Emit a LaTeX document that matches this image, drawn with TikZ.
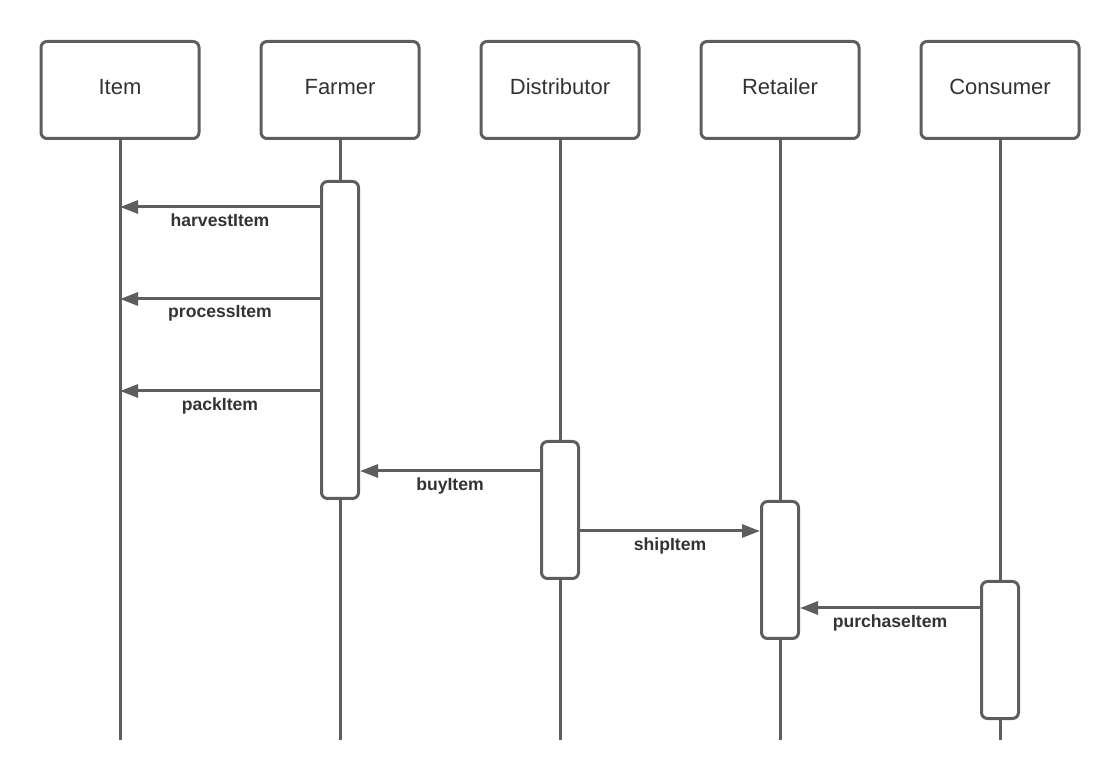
\documentclass[tikz,border=0pt]{standalone}
\usepackage{fontspec}
\setmainfont{Liberation Sans}
\usetikzlibrary{arrows.meta}
\definecolor{linegray}{HTML}{5E5E5E}
\definecolor{textgray}{HTML}{333333}
\tikzset{
  actor/.style={draw=linegray, line width=1.5pt, rounded corners=3pt,
    minimum width=79pt, minimum height=48.5pt, text=textgray,
    text depth=3pt, font=\fontsize{11}{13}\selectfont},
  activation/.style={draw=linegray, line width=1.5pt, rounded corners=3pt,
    fill=white, minimum width=18.5pt, inner sep=0pt},
  lifeline/.style={draw=linegray, line width=1.5pt},
  message/.style={draw=linegray, line width=1.5pt,
    -{Triangle[length=9pt,width=6.5pt]}},
  msglabel/.style={below, inner sep=2.5pt, text=textgray,
    font=\fontsize{8.8}{10}\selectfont\bfseries}
}
\begin{document}
\begin{tikzpicture}[x=0.5pt, y=-0.5pt]
  \useasboundingbox (0,0) rectangle (1120,780);
  \node [actor] (item) at (120,90)
    {Item};
  \node [actor] (farmer) at (340,90)
    {Farmer};
  \node [actor] (distributor) at (560,90)
    {Distributor};
  \node [actor] (retailer) at (780,90)
    {Retailer};
  \node [actor] (consumer) at (1000,90)
    {Consumer};
  \coordinate (bottom) at (0,740);
  \foreach \who in {item, farmer, distributor, retailer, consumer}
    \draw [lifeline] (\who) -- (\who |- bottom);
  \node [activation, minimum height=158.5pt] (farmbar) at (340,340) {};
  \node [activation, minimum height=68.5pt] (distbar) at (560,510) {};
  \node [activation, minimum height=68.5pt] (retbar) at (780,570) {};
  \node [activation, minimum height=68.5pt] (consbar) at (1000,650) {};
  \coordinate (harvest) at (120,207);
  \coordinate (process) at (120,299);
  \coordinate (pack) at (120,391);
  \coordinate (buy) at (0,471);
  \coordinate (ship) at (0,531);
  \coordinate (purchase) at (0,608);
  \draw [message] (farmbar.west |- harvest) to node [msglabel]
    {harvestItem} (harvest);
  \draw [message] (farmbar.west |- process) to node [msglabel]
    {processItem} (process);
  \draw [message] (farmbar.west |- pack) to node [msglabel]
    {packItem} (pack);
  \draw [message] (distbar.west |- buy) to node [msglabel]
    {buyItem} (farmbar.east |- buy);
  \draw [message] (distbar.east |- ship) to node [msglabel]
    {shipItem} (retbar.west |- ship);
  \draw [message] (consbar.west |- purchase) to node [msglabel]
    {purchaseItem} (retbar.east |- purchase);
\end{tikzpicture}
\end{document}
